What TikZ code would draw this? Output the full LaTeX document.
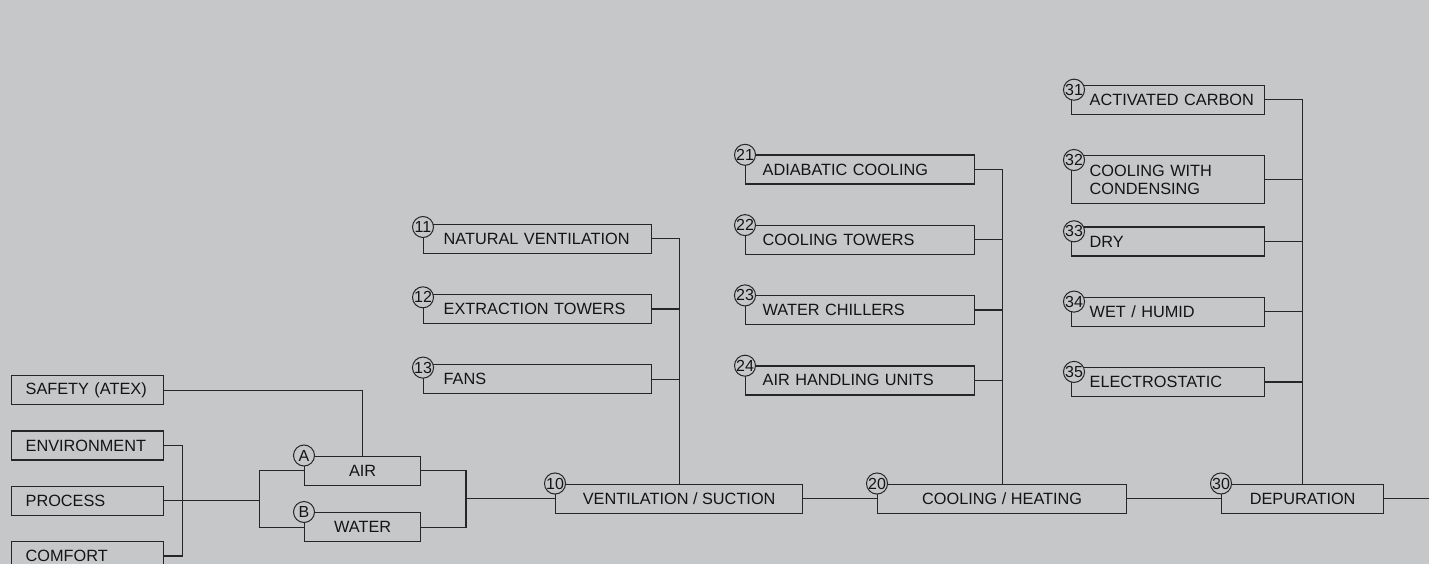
\documentclass[tikz,border=0pt]{standalone}
\usepackage{fontspec}
\setmainfont{Liberation Sans}
\usetikzlibrary{positioning}
\definecolor{paper}{RGB}{198,199,201}
\definecolor{ink}{RGB}{38,38,38}
\definecolor{lettering}{RGB}{20,20,20}
\newcommand{\boxfont}{\fontsize{16.3}{18.5}\selectfont}
\newcommand{\numfont}{\fontsize{16}{16}\selectfont}
\hyphenpenalty=10000
\exhyphenpenalty=10000

\begin{document}
\begin{tikzpicture}
[x=1pt,y=-1pt,
block/.style={rectangle,draw=ink,line width=1.3pt,minimum height=29pt,inner ysep=0pt,font=\boxfont,text=lettering},
need/.style={block,anchor=north west,inner xsep=14pt,text width=124pt,align=left},
sub1/.style={block,anchor=north west,inner xsep=20pt,text width=188pt,align=left},
sub2/.style={block,anchor=north west,inner xsep=17pt,text width=195pt,align=left},
sub3/.style={block,anchor=north west,inner xsep=18pt,text width=157pt,align=left},
stage/.style={block,anchor=north west,inner xsep=0pt},
num/.style={circle,draw=ink,line width=1pt,fill=paper,inner sep=0pt,minimum size=21pt,font=\numfont,text=lettering},
wire/.style={draw=ink,line width=1.3pt}]
\fill[paper] (0,0) rectangle (1429,564);
\useasboundingbox (0,0) rectangle (1429,564);
% requirements
\node[need] (safety) at (11,375) {SAFETY~(ATEX)};
\node[need] (environment) [below=25pt of safety] {ENVIRONMENT};
\node[need] (process) [below=25pt of environment] {PROCESS};
\node[need] (comfort) [below=25pt of process] {COMFORT};
% main stages
\node[stage,minimum width=116pt] (air) at (304,455.5) {AIR};
\node[stage,minimum width=116pt] (water) at (304,512) {WATER};
\node[stage,minimum width=247pt] (vent) at (555,483.5) {VENTILATION / SUCTION};
\node[stage,minimum width=249pt] (cool) at (877,483.5) {COOLING / HEATING};
\node[stage,minimum width=162pt] (dep) at (1221,483.5) {DEPURATION};
% ventilation options
\node[sub1] (natural) at (423,223.5) {NATURAL~VENTILATION};
\node[sub1] (extraction) [below=40pt of natural] {EXTRACTION~TOWERS};
\node[sub1] (fans) [below=40pt of extraction] {FANS};
% cooling options
\node[sub2] (adiabatic) at (745,154.3) {ADIABATIC~COOLING};
\node[sub2] (towers) [below=40pt of adiabatic] {COOLING~TOWERS};
\node[sub2] (chillers) [below=40pt of towers] {WATER~CHILLERS};
\node[sub2] (ahu) [below=40pt of chillers] {AIR~HANDLING~UNITS};
% depuration options
\node[sub3] (carbon) at (1071,84.7) {ACTIVATED~CARBON};
\node[sub3,minimum height=48pt] (condensing) [below=40pt of carbon] {COOLING~WITH\\CONDENSING};
\node[sub3] (dry) [below=22pt of condensing] {DRY};
\node[sub3] (wet) [below=40pt of dry] {WET~/~HUMID};
\node[sub3] (electro) [below=40pt of wet] {ELECTROSTATIC};
% tags
\node[num] (tagA) at (air.north west) {A};
\node[num] (tagB) at (water.north west) {B};
\node[num] (tag10) at (vent.north west) {10};
\node[num] (tag20) at (cool.north west) {20};
\node[num] (tag30) at (dep.north west) {30};
\foreach \blk/\tag in {natural/11,extraction/12,fans/13}
  \node[num] (tag\tag) at ([yshift=-3.5pt]\blk.north west) {\tag};
\foreach \blk/\tag in {adiabatic/21,towers/22,chillers/23,ahu/24}
  \node[num] (tag\tag) at ([yshift=-0.5pt]\blk.north west) {\tag};
\foreach \blk/\tag in {carbon/31,condensing/32,dry/33,wet/34,electro/35}
  \node[num] (tag\tag) at ([xshift=3pt,yshift=-5pt]\blk.north west) {\tag};
% junctions
\coordinate (fork) at ([xshift=18pt]process.east);
\coordinate (split) at ([xshift=95pt]process.east);
\coordinate (merge) at ([xshift=-89pt]vent.west);
\coordinate (exit) at ([xshift=46pt]dep.east);
% connectors
\draw[wire] (environment.east) -| (fork) |- (comfort.east);
\draw[wire] (process.east) -- (split);
\draw[wire] (air.west) -| (split) |- (water.west);
\draw[wire] (air.east) -| (merge) |- (water.east);
\draw[wire] (merge) -- (vent.west);
\draw[wire] (safety.east) -| (air.north);
\draw[wire] (natural.east) -| (vent.north);
\foreach \blk in {extraction,fans}
  \draw[wire] (\blk.east) -- (\blk.east -| vent.north);
\draw[wire] (adiabatic.east) -| (cool.north);
\foreach \blk in {towers,chillers,ahu}
  \draw[wire] (\blk.east) -- (\blk.east -| cool.north);
\draw[wire] (carbon.east) -| (dep.north);
\foreach \blk in {condensing,dry,wet,electro}
  \draw[wire] (\blk.east) -- (\blk.east -| dep.north);
\draw[wire] (vent.east) -- (cool.west);
\draw[wire] (cool.east) -- (dep.west);
\draw[wire] (dep.east) -- (exit);
\end{tikzpicture}
\end{document}
